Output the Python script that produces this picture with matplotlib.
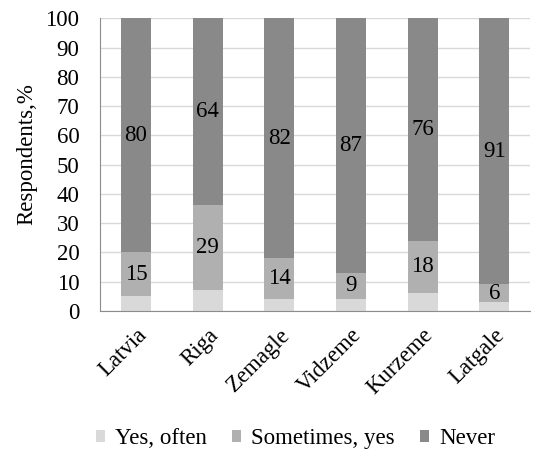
import numpy as np
import matplotlib
matplotlib.use("Agg")
import matplotlib.pyplot as plt

#----- Data -----#

regions = ["Latvia", "Riga", "Zemagle", "Vidzeme", "Kurzeme", "Latgale"]
yes_often = [5, 7, 4, 4, 6, 3]
sometimes_yes = [15, 29, 14, 9, 18, 6]
never = [80, 64, 82, 87, 76, 91]

#----- Style -----#

plt.rcParams['font.family'] = ['Liberation Serif', 'DejaVu Serif']
fs = 16.5

c_often = "#d9d9d9"
c_some = "#b0b0b0"
c_never = "#898989"

fig = plt.figure(figsize=(5.47, 4.57), dpi=100)
ax = fig.add_axes([0.183, 0.32, 0.786, 0.64])

x = np.arange(len(regions))
width = 0.42

b1 = ax.bar(x, yes_often, width, color=c_often, label="Yes, often", zorder=2)
bottom2 = np.array(yes_often)
b2 = ax.bar(x, sometimes_yes, width, bottom=bottom2, color=c_some,
            label="Sometimes, yes", zorder=2)
bottom3 = bottom2 + np.array(sometimes_yes)
b3 = ax.bar(x, never, width, bottom=bottom3, color=c_never,
            label="Never", zorder=2)

ax.bar_label(b2, labels=[str(v) for v in sometimes_yes], label_type="center",
             fontsize=fs)
ax.bar_label(b3, labels=[str(v) for v in never], label_type="center",
             fontsize=fs)

ax.set_ylim(0, 100)
ax.set_xlim(-0.5, len(regions) - 0.5)
ax.set_yticks(np.arange(0, 101, 10))
ax.yaxis.grid(True, color="#d9d9d9", linewidth=1, zorder=0)
ax.set_axisbelow(True)

ax.set_xticks(x)
ax.set_xticklabels(regions, rotation=45, ha="right", rotation_mode="anchor")
ax.tick_params(axis="both", length=0, labelsize=fs)
ax.tick_params(axis="x", pad=10)
ax.tick_params(axis="y", pad=15)

for s in ["top", "right"]:
    ax.spines[s].set_visible(False)
for s in ["left", "bottom"]:
    ax.spines[s].set_color("#8c8c8c")

ax.set_ylabel("Respondents,%", fontsize=fs, labelpad=5)
ax.yaxis.set_label_coords(-0.145, 0.535)

fig.legend(handles=[b1, b2, b3], loc="center", ncol=3, frameon=False,
           bbox_to_anchor=(0.54, 0.04), fontsize=fs, handlelength=0.38,
           handleheight=0.38, handletextpad=0.45, columnspacing=1.1)

fig.savefig("out.png", dpi=100)
